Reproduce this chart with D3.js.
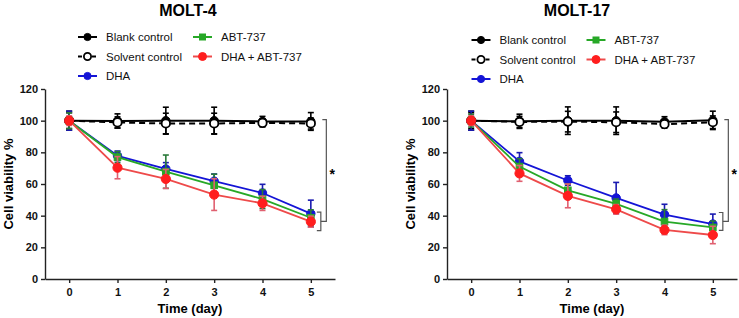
<!DOCTYPE html>
<html>
<head>
<meta charset="utf-8">
<script src="https://cdn.jsdelivr.net/npm/d3@7"></script>
<style>
  body { margin: 0; background: #fff; }
  svg { display: block; font-family: "Liberation Sans", Arial, sans-serif; }
  .axis path, .axis line { stroke: #222; stroke-width: 1.4; }
  .axis text { font-size: 11px; font-weight: bold; fill: #111; }
</style>
</head>
<body>
<svg id="chart" width="739" height="318"></svg>
<script>
// days on the x axis
const days = [0, 1, 2, 3, 4, 5];
const xTicks = [0, 1, 2, 3, 4, 5];
const yTicks = [0, 20, 40, 60, 80, 100, 120];
const seriesNames = ["Blank control", "Solvent control", "DHA", "ABT-737", "DHA + ABT-737"];

// MOLT-4 means and error (SD)
const blank4 = [100, 99.8, 100, 100, 99.5, 99.5];
const blank4Err = [6, 4.5, 8.5, 8.5, 3.2, 5.6];
const solvent4 = [100, 98.9, 98.2, 98.2, 98.6, 98.2];
const solvent4Err = [5, 3.5, 6.5, 6.5, 2.5, 3.5];
const dha4 = [100, 77.8, 69.5, 61.8, 54.3, 41.3];
const dha4Err = [6, 3, 4, 4.5, 5.5, 8.5];
const abt4 = [100, 77, 67.8, 59.2, 50.5, 38.7];
const abt4Err = [5, 3.5, 10.5, 7, 6, 5];
const combo4 = [100, 70.3, 63.2, 53.3, 47.8, 36.2];
const combo4Err = [3, 7, 6, 10, 4.5, 3.5];

// MOLT-17 means and error (SD)
const blank17 = [100, 99.6, 100, 100, 99.3, 100.2];
const blank17Err = [6, 4.5, 8.7, 8.7, 3.2, 5.8];
const solvent17 = [100, 99.2, 99.4, 99.0, 97.8, 99.0];
const solvent17Err = [5, 3.5, 6.5, 6.5, 2.5, 4];
const dha17 = [100, 74.3, 62.2, 51.2, 40.7, 34.7];
const dha17Err = [6, 5.5, 3, 9.8, 6.5, 6.3];
const abt17 = [100, 71, 56, 47.5, 36.3, 32.6];
const abt17Err = [4, 5, 4, 3, 7.5, 4];
const combo17 = [100, 66.7, 52.5, 44, 31, 27.8];
const combo17Err = [3, 5, 7.5, 3, 3, 5.5];

// significance bracket: [top of long bar, small bracket top, small bracket bottom]
const bracket4 = [100.6, 42.2, 30.5];
const bracket17 = [100.6, 42.0, 30.7];

const styles = [
  {line: "#000", err: "#000", fill: "#000", stroke: "#000", shape: "circle", dash: null},
  {line: "#000", err: "#000", fill: "#fff", stroke: "#000", shape: "circle", dash: "6,4"},
  {line: "#1414d6", err: "#1a1ab0", fill: "#1414d6", stroke: "#1414d6", shape: "circle", dash: null},
  {line: "#27a827", err: "#2a7a3a", fill: "#27a827", stroke: "#27a827", shape: "square", dash: null},
  {line: "#ee4a4a", err: "#e06070", fill: "#ff1e1e", stroke: "#ff1e1e", shape: "circle", dash: null}
];

const svg = d3.select("#chart");

function drawMarker(g, shape, cx, cy, st, r) {
  if (shape === "square") {
    g.append("rect")
      .attr("x", cx - r).attr("y", cy - r)
      .attr("width", 2 * r).attr("height", 2 * r)
      .attr("fill", st.fill).attr("stroke", st.stroke).attr("stroke-width", 1);
  } else {
    g.append("circle")
      .attr("cx", cx).attr("cy", cy).attr("r", r)
      .attr("fill", st.fill).attr("stroke", st.stroke)
      .attr("stroke-width", st.fill === "#fff" ? 1.8 : 1);
  }
}

function panel(opt) {
  let x = d3.scaleLinear().domain([-0.5, 5.5]).range([opt.x0, opt.x0 + 290]);
  let y = d3.scaleLinear().domain([0, 120]).range([279, 89]);
  let g = svg.append("g");

  // title
  g.append("text").text(opt.title)
    .attr("x", opt.titleX).attr("y", 16)
    .attr("text-anchor", "middle")
    .style("font-size", "16px").style("font-weight", "bold");

  // axes
  g.append("g").attr("class", "axis")
    .attr("transform", "translate(" + opt.x0 + ",0)")
    .call(d3.axisLeft(y).tickValues(yTicks).tickSize(4).tickPadding(3).tickSizeOuter(0));
  g.append("g").attr("class", "axis")
    .attr("transform", "translate(0,279)")
    .call(d3.axisBottom(x).tickValues(xTicks).tickFormat(d3.format("d")).tickSize(4).tickPadding(5).tickSizeOuter(0));

  g.append("text").text("Time (day)")
    .attr("x", x(2.5)).attr("y", 313)
    .attr("text-anchor", "middle")
    .style("font-size", "13px").style("font-weight", "bold");
  g.append("text").text("Cell viability %")
    .attr("transform", "translate(" + (opt.x0 - 32) + "," + y(60) + ") rotate(-90)")
    .attr("text-anchor", "middle")
    .style("font-size", "13px").style("font-weight", "bold");

  // lines
  let line = d3.line().x((d, i) => x(days[i])).y(d => y(d));
  opt.series.forEach((s, k) => {
    let st = styles[k];
    let sg = g.append("g");
    sg.append("path").datum(s.values)
      .attr("d", line)
      .attr("fill", "none")
      .attr("stroke", st.line)
      .attr("stroke-width", k < 2 ? 2 : 1.8)
      .attr("stroke-dasharray", st.dash);
    s.values.forEach((v, i) => {
      let e = s.err[i];
      let cx = x(days[i]);
      sg.append("line").attr("x1", cx).attr("x2", cx)
        .attr("y1", y(v - e)).attr("y2", y(v + e))
        .attr("stroke", st.err).attr("stroke-width", 1.6);
      [v - e, v + e].forEach(t => {
        sg.append("line").attr("x1", cx - 3).attr("x2", cx + 3)
          .attr("y1", y(t)).attr("y2", y(t))
          .attr("stroke", st.err).attr("stroke-width", 1.6);
      });
      drawMarker(sg, st.shape, cx, y(v), st, k === 4 ? 4.6 : (st.shape === "square" ? 3.3 : 4.2));
    });
  });

  // significance brackets
  let b = opt.bracket;
  let xs = x(5) + 10, xb = x(5) + 15.5;
  let mid = (b[1] + b[2]) / 2;
  let br = g.append("g").attr("fill", "none").attr("stroke", "#555").attr("stroke-width", 1.2);
  br.append("path")
    .attr("d", "M" + (xs - 4) + "," + y(b[1]) + "H" + xs + "V" + y(b[2]) + "H" + (xs - 4));
  br.append("path")
    .attr("d", "M" + (xb - 4) + "," + y(b[0]) + "H" + xb + "V" + y(mid) + "H" + xs);
  g.append("text").text("*")
    .attr("x", xb + 6).attr("y", y((b[0] + mid) / 2) + 8)
    .attr("text-anchor", "middle")
    .style("font-size", "14px").style("font-weight", "bold");

  // legend
  let cols = [opt.legX, opt.legX + 115];
  let rows = [opt.legY, opt.legY + 19.5, opt.legY + 39];
  let pos = [[0, 0], [0, 1], [0, 2], [1, 0], [1, 1]];
  seriesNames.forEach((name, k) => {
    let st = styles[k];
    let lx = cols[pos[k][0]], ly = rows[pos[k][1]];
    let lg = g.append("g");
    lg.append("line").attr("x1", lx).attr("x2", lx + 19)
      .attr("y1", ly).attr("y2", ly)
      .attr("stroke", st.line).attr("stroke-width", 2)
      .attr("stroke-dasharray", st.dash ? "4,3" : null);
    drawMarker(lg, st.shape, lx + 9.5, ly, st, k === 4 ? 4 : (st.shape === "square" ? 3 : 3.6));
    lg.append("text").text(name)
      .attr("x", lx + 28).attr("y", ly + 4)
      .style("font-size", "11.5px").attr("fill", "#111");
  });
}

panel({
  title: "MOLT-4", titleX: 188, x0: 45, legX: 78, legY: 37, bracket: bracket4,
  series: [
    {values: blank4, err: blank4Err},
    {values: solvent4, err: solvent4Err},
    {values: dha4, err: dha4Err},
    {values: abt4, err: abt4Err},
    {values: combo4, err: combo4Err}
  ]
});

panel({
  title: "MOLT-17", titleX: 577, x0: 447, legX: 471.5, legY: 40, bracket: bracket17,
  series: [
    {values: blank17, err: blank17Err},
    {values: solvent17, err: solvent17Err},
    {values: dha17, err: dha17Err},
    {values: abt17, err: abt17Err},
    {values: combo17, err: combo17Err}
  ]
});
</script>
</body>
</html>
